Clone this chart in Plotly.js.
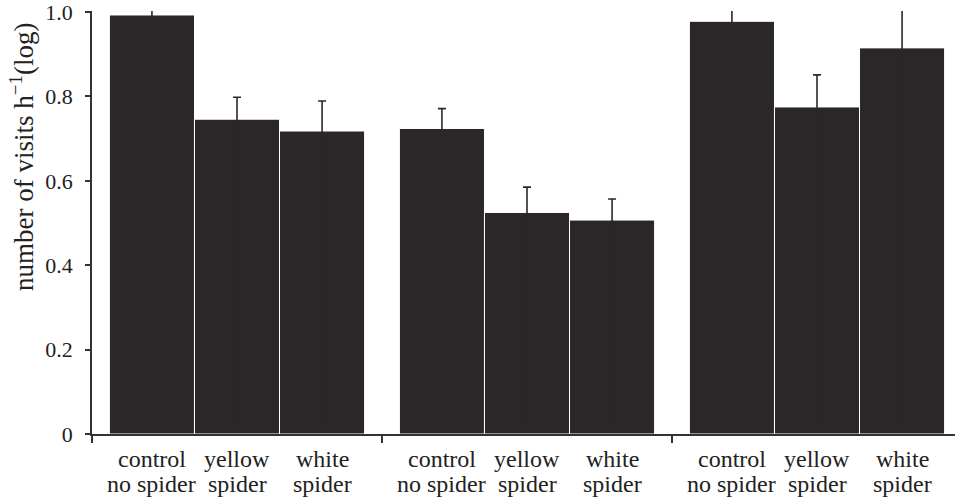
<!DOCTYPE html>
<html>
<head>
<meta charset="utf-8">
<script src="https://cdn.plot.ly/plotly-3.0.1.min.js"></script>
<style>
html,body{margin:0;padding:0;overflow:hidden;background:#fff;width:955px;height:499px;font-family:'Liberation Serif';}
#chart{position:absolute;left:0;top:-20px;width:962px;height:520px;}
#chart text{font-family:'Liberation Serif' !important;}
</style>
</head>
<body>
<div id="chart"></div>
<script>
var groups = ["A", "B", "C"];
var labelLine1 = ["control", "yellow", "white"];
var labelLine2 = ["no spider", "spider", "spider"];
var controlVals = [0.993, 0.724, 0.978];
var controlErr = [0.03, 0.047, 0.04];
var yellowVals = [0.746, 0.525, 0.775];
var yellowErr = [0.052, 0.060, 0.076];
var whiteVals = [0.718, 0.507, 0.915];
var whiteErr = [0.071, 0.050, 0.10];
var yTickVals = [0, 0.2, 0.4, 0.6, 0.8, 1.0];
var yTickText = ["0", "0.2", "0.4", "0.6", "0.8", "1.0"];

var barColor = "#2b2728";
var serif = "Liberation Serif";
var series = [[controlVals, controlErr], [yellowVals, yellowErr], [whiteVals, whiteErr]];

var traces = series.map(function (s, i) {
  return {
    type: "bar",
    x: groups,
    y: s[0],
    name: labelLine1[i] + " " + labelLine2[i],
    marker: {color: barColor, line: {color: "#ffffff", width: 1}},
    error_y: {type: "data", array: s[1], symmetric: false,
              arrayminus: s[0].map(function (v) { return v - 0.02; }),
              color: barColor, thickness: 1.6, width: 4},
    hoverinfo: "none"
  };
});

var bargap = 0.12;
var barW = (1 - bargap) / labelLine1.length;
var annotations = [];
groups.forEach(function (g, gi) {
  labelLine1.forEach(function (t, ti) {
    var xPos = gi + (ti - (labelLine1.length - 1) / 2) * barW;
    annotations.push({
      xref: "x", yref: "paper", x: xPos, y: 0, yanchor: "top", yshift: -10,
      text: t, showarrow: false,
      font: {family: serif, size: 24, color: "#222"}
    });
    annotations.push({
      xref: "x", yref: "paper", x: xPos, y: 0, yanchor: "top", yshift: -35,
      text: labelLine2[ti], showarrow: false,
      font: {family: serif, size: 24, color: "#222"}
    });
  });
});
annotations.push({
  xref: "paper", yref: "paper", x: -0.0805, y: 0.655,
  xanchor: "center", yanchor: "middle", textangle: -90,
  text: "number of visits h<sup>−1</sup>(log)", showarrow: false,
  font: {family: serif, size: 27, color: "#222"}
});

var layout = {
  width: 962, height: 520,
  margin: {l: 92, r: 0, t: 31, b: 66},
  paper_bgcolor: "#fff", plot_bgcolor: "#fff",
  font: {family: serif, color: "#222"},
  barmode: "group", bargap: bargap, bargroupgap: 0,
  showlegend: false,
  xaxis: {
    type: "category", range: [-0.5, 2.5],
    showticklabels: false, tickson: "boundaries",
    ticks: "outside", ticklen: 7, tickwidth: 1.5, tickcolor: "#333",
    showline: true, linecolor: "#333", linewidth: 1.5,
    showgrid: false, zeroline: false
  },
  yaxis: {
    range: [0, 1.0024],
    tickvals: yTickVals, ticktext: yTickText,
    ticks: "outside", ticklen: 5, tickwidth: 1.5, tickcolor: "#333",
    ticklabelstandoff: 8,
    showline: true, linecolor: "#333", linewidth: 1.5,
    showgrid: false, zeroline: false,
    tickfont: {family: serif, size: 22, color: "#222"}
  },
  annotations: annotations
};

Plotly.newPlot("chart", traces, layout, {displayModeBar: false});
</script>
</body>
</html>
